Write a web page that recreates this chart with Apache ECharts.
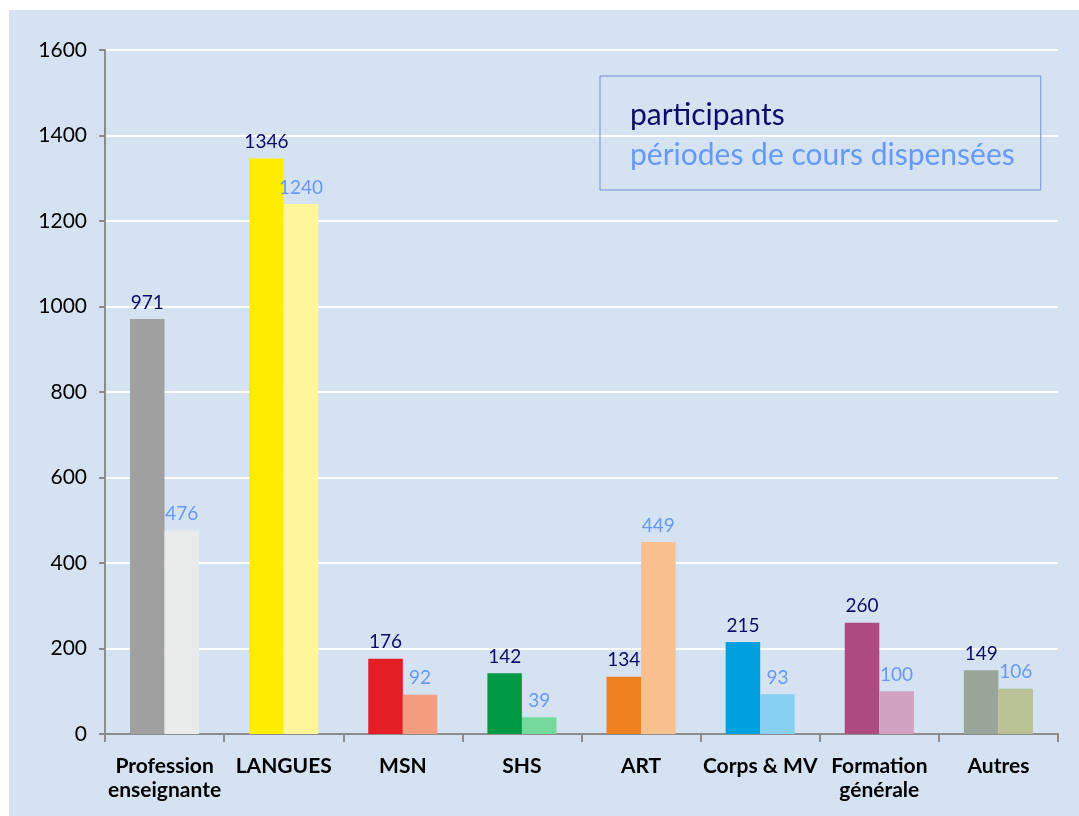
<!DOCTYPE html>
<html>
<head>
<meta charset="utf-8">
<script src="https://cdn.jsdelivr.net/npm/echarts@6/dist/echarts.min.js"></script>
<style>
html,body{margin:0;padding:0;background:#ffffff;}
#chart{width:1079px;height:816px;}
</style>
</head>
<body>
<div id="chart"></div>
<script>
const categories = ['Profession\nenseignante', 'LANGUES', 'MSN', 'SHS', 'ART', 'Corps & MV', 'Formation\ngénérale', 'Autres'];
const participants = [971, 1346, 176, 142, 134, 215, 260, 149];
const periodes = [476, 1240, 92, 39, 449, 93, 100, 106];
const yTicks = [0, 200, 400, 600, 800, 1000, 1200, 1400, 1600];

const darkColors = ['#a0a0a0', '#ffed00', '#e31e24', '#009a44', '#ee8020', '#009fe0', '#ad4a80', '#98a598'];
const lightColors = ['#e9ebeb', '#fff59a', '#f39c7e', '#74d99a', '#f8c08c', '#87cff3', '#d1a1c2', '#b9c396'];

const FONT = 'Lato, "Open Sans", sans-serif';
const chart = echarts.init(document.getElementById('chart'));
chart.setOption({
  animation: false,
  backgroundColor: '#ffffff',
  graphic: [{
    type: 'rect', z: -10, silent: true,
    shape: {x: 9, y: 10, width: 1070, height: 806},
    style: {fill: '#d5e2f2'}
  }],
  grid: {left: 105, right: 21, top: 50, bottom: 82, containLabel: false},
  legend: {
    orient: 'vertical',
    left: 600, top: 76,
    icon: 'none', itemWidth: 0, itemHeight: 10, itemGap: 6,
    padding: [22, 26, 18, 25],
    borderColor: '#6f8fd8', borderWidth: 1,
    backgroundColor: 'transparent',
    textStyle: {fontFamily: FONT, fontSize: 30, lineHeight: 34},
    data: [
      {name: 'participants', textStyle: {color: '#0b0b6b'}},
      {name: 'périodes de cours dispensées', textStyle: {color: '#6699ff'}}
    ]
  },
  xAxis: {
    type: 'category',
    data: categories,
    axisLine: {lineStyle: {color: '#8c8c8c', width: 2}},
    axisTick: {show: true, length: 8, alignWithLabel: false, lineStyle: {color: '#8c8c8c', width: 2}},
    axisLabel: {color: '#000', fontFamily: FONT, fontWeight: 'bold', fontSize: 21, lineHeight: 24, margin: 20, interval: 0, verticalAlign: 'top'}
  },
  yAxis: {
    type: 'value', min: 0, max: 1600, interval: 200,
    axisLine: {show: true, lineStyle: {color: '#8c8c8c', width: 2}},
    axisTick: {show: true, length: 6, lineStyle: {color: '#8c8c8c', width: 2}},
    splitLine: {lineStyle: {color: '#ffffff', width: 2}},
    axisLabel: {color: '#000', fontFamily: FONT, fontSize: 21, margin: 18,
      formatter: v => yTicks.includes(v) ? String(v) : ''}
  },
  series: [
    {
      name: 'participants', type: 'bar', barGap: '0%', barCategoryGap: '42%',
      data: participants.map((v, i) => ({value: v, itemStyle: {color: darkColors[i]}})),
      label: {show: true, position: 'top', distance: 7, color: '#0b0b6b', fontFamily: FONT, fontSize: 19}
    },
    {
      name: 'périodes de cours dispensées', type: 'bar', barGap: '0%', barCategoryGap: '42%',
      data: periodes.map((v, i) => ({value: v, itemStyle: {color: lightColors[i]}})),
      label: {show: true, position: 'top', distance: 7, color: '#6699ff', fontFamily: FONT, fontSize: 19}
    }
  ]
});
</script>
</body>
</html>
